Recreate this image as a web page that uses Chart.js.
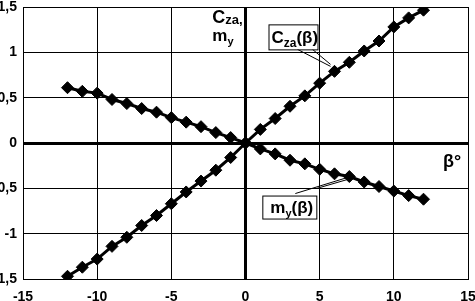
<!DOCTYPE html>
<html>
<head>
<meta charset="utf-8">
<script src="https://cdn.jsdelivr.net/npm/chart.js@4.4.1/dist/chart.umd.min.js"></script>
<style>
  html, body { margin: 0; padding: 0; background: #fff; overflow: hidden; }
  #wrap { position: relative; width: 475px; height: 301px; }
</style>
</head>
<body>
<div id="wrap"><canvas id="c" width="475" height="301"></canvas></div>
<script>
// ---- data ----
const beta = [-12,-11,-10,-9,-8,-7,-6,-5,-4,-3,-2,-1,0,1,2,3,4,5,6,7,8,9,10,11,12];
const cza  = [-1.47,-1.37,-1.28,-1.14,-1.04,-0.91,-0.80,-0.67,-0.54,-0.42,-0.30,-0.16,0,
              0.15,0.27,0.405,0.52,0.66,0.79,0.89,1.015,1.125,1.28,1.38,1.465];
const my   = [0.61,0.57,0.55,0.48,0.435,0.38,0.34,0.28,0.23,0.18,0.115,0.06,0,
              -0.065,-0.12,-0.19,-0.23,-0.29,-0.34,-0.37,-0.43,-0.48,-0.53,-0.58,-0.62];
const xTicks = [-15,-10,-5,0,5,10,15];
const yTicks = [-1.5,-1,-0.5,0,0.5,1,1.5];

const FONT = '"Liberation Sans", Arial, sans-serif';

function pts(xs, ys){ return xs.map((v,i)=>({x:v, y:ys[i]})); }

function drawRich(ctx, parts, x, base){
  let cx = x;
  for (const p of parts){
    ctx.font = 'bold ' + p.size + 'px ' + FONT;
    ctx.fillText(p.t, cx, base + (p.dy||0));
    cx += ctx.measureText(p.t).width;
  }
  return cx - x;
}
function richWidth(ctx, parts){
  let w = 0;
  for (const p of parts){ ctx.font = 'bold ' + p.size + 'px ' + FONT; w += ctx.measureText(p.t).width; }
  return w;
}

const annot = {
  id: 'annot',
  afterDraw(chart){
    const ctx = chart.ctx, xs = chart.scales.x, ys = chart.scales.y;
    const ca = chart.chartArea;
    const x0 = xs.getPixelForValue(0);
    ctx.save();
    ctx.fillStyle = '#000';
    ctx.strokeStyle = '#000';
    ctx.textBaseline = 'alphabetic';
    ctx.textAlign = 'left';

    // axis title Cza, / my
    const t1 = [{t:'C',size:18},{t:'za,',size:13,dy:1}];
    drawRich(ctx, t1, x0 - 3 - richWidth(ctx,t1), ca.top + 16);
    const t2 = [{t:'m',size:17},{t:'y',size:11,dy:4}];
    drawRich(ctx, t2, x0 - 12 - richWidth(ctx,t2), ca.top + 34);

    // beta axis label
    drawRich(ctx, [{t:'β°',size:18}], ca.right - 25, ys.getPixelForValue(0) + 24);

    // Cza(β) callout
    const pc = {x: xs.getPixelForValue(beta[18]), y: ys.getPixelForValue(cza[18])};
    ctx.lineWidth = 1;
    ctx.beginPath();
    ctx.moveTo(pc.x - 37, pc.y - 22); ctx.lineTo(pc.x - 4, pc.y - 5);
    ctx.moveTo(pc.x - 22, pc.y - 22); ctx.lineTo(pc.x - 4, pc.y - 7);
    ctx.stroke();
    const bx1 = pc.x - 66, by1 = pc.y - 47;
    ctx.fillStyle = '#fff';
    ctx.fillRect(bx1, by1, 49, 25);
    ctx.strokeRect(bx1 + 0.5, by1 + 0.5, 49, 25);
    ctx.fillStyle = '#000';
    const l1 = [{t:'C',size:17},{t:'za',size:12,dy:4},{t:'(β)',size:17}];
    drawRich(ctx, l1, bx1 + 3, by1 + 19);

    // my(β) callout
    const pm = {x: xs.getPixelForValue(beta[19]), y: ys.getPixelForValue(my[19])};
    ctx.beginPath();
    ctx.moveTo(pm.x - 54, pm.y + 17); ctx.lineTo(pm.x - 2, pm.y + 1);
    ctx.moveTo(pm.x - 33, pm.y + 12); ctx.lineTo(pm.x - 2, pm.y + 3);
    ctx.stroke();
    const bx2 = pm.x - 87, by2 = pm.y + 19;
    ctx.fillStyle = '#fff';
    ctx.fillRect(bx2, by2, 54, 23);
    ctx.strokeRect(bx2 + 0.5, by2 + 0.5, 54, 23);
    ctx.fillStyle = '#000';
    const l2 = [{t:'m',size:17},{t:'y',size:11,dy:4},{t:'(β)',size:17}];
    drawRich(ctx, l2, bx2 + 8, by2 + 17);

    ctx.restore();
  }
};

const zeroW = c => (c.tick && c.tick.value === 0) ? 3 : 1;

new Chart(document.getElementById('c'), {
  type: 'scatter',
  data: {
    datasets: [
      { label: 'Cza(β)', data: pts(beta, cza), showLine: true,
        borderColor: '#000', backgroundColor: '#000', borderWidth: 3,
        pointStyle: 'rectRot', pointRadius: 6, pointBorderWidth: 1 },
      { label: 'my(β)', data: pts(beta, my), showLine: true,
        borderColor: '#000', backgroundColor: '#000', borderWidth: 3,
        pointStyle: 'rectRot', pointRadius: 6, pointBorderWidth: 1 }
    ]
  },
  options: {
    responsive: false,
    animation: false,
    devicePixelRatio: 1,
    layout: { padding: { top: 5, right: 7, left: 0, bottom: 0 } },
    plugins: { legend: { display: false }, tooltip: { enabled: false } },
    scales: {
      x: {
        type: 'linear', min: -15, max: 15,
        afterBuildTicks: s => { s.ticks = xTicks.map(v => ({value: v})); },
        afterFit: s => { s.height = 22; s.paddingLeft = 0; s.paddingRight = 0; },
        grid: { color: '#000', lineWidth: zeroW, drawTicks: false },
        border: { display: true, color: '#000', width: 1 },
        ticks: { color: '#000', padding: 10, font: { family: FONT, size: 14, weight: 'bold' } }
      },
      y: {
        type: 'linear', min: -1.5, max: 1.5,
        afterBuildTicks: s => { s.ticks = yTicks.map(v => ({value: v})); },
        afterFit: s => { s.width = 23; s.paddingTop = 0; s.paddingBottom = 0; },
        grid: { color: '#000', lineWidth: zeroW, drawTicks: false },
        border: { display: true, color: '#000', width: 1 },
        ticks: { color: '#000', padding: 6, font: { family: FONT, size: 14, weight: 'bold' },
                 callback: v => String(v).replace('.', ',') }
      }
    }
  },
  plugins: [annot]
});
</script>
</body>
</html>
